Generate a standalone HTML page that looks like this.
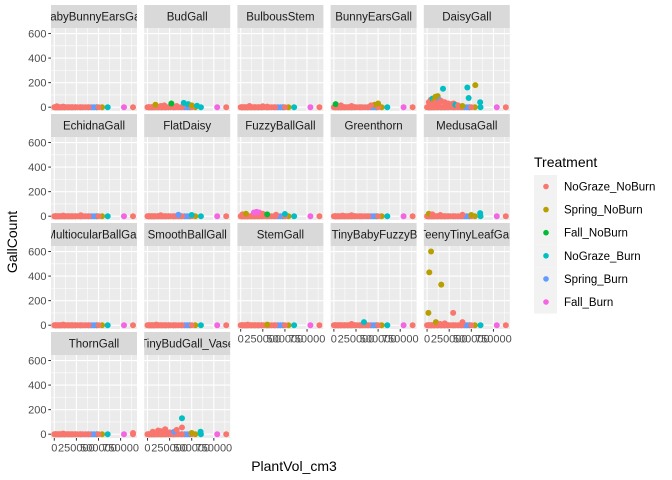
<!DOCTYPE html>
<html><head><meta charset="utf-8"><style>
body{margin:0;background:#fff;}
svg{display:block;font-family:"Liberation Sans",Arial,sans-serif;}
</style></head><body>
<svg id="chart" width="672" height="480" viewBox="0 0 672 480"></svg>
<script>
const facetNames = ["BabyBunnyEarsGall","BudGall","BulbousStem","BunnyEarsGall","DaisyGall","EchidnaGall","FlatDaisy","FuzzyBallGall","Greenthorn","MedusaGall","MultiocularBallGall","SmoothBallGall","StemGall","TinyBabyFuzzyBall","TeenyTinyLeafGall","ThornGall","TinyBudGall_Vase"];
const treatments = ["NoGraze_NoBurn","Spring_NoBurn","Fall_NoBurn","NoGraze_Burn","Spring_Burn","Fall_Burn"];
const treatmentColors = ["#F8766D","#B79F00","#00BA38","#00BFC4","#619CFF","#F564E3"];
const yTicks = [0,200,400,600];
const yMinor = [100,300,500];
const xTicks = [0,250000,500000,750000];
const xTickLabels = ["0","250000","500000","750000"];
const xMinor = [125000,375000,625000,875000];
// plants with zero galls: [plantVol, treatmentIndex]
const zeroPlants = [[15000,1],[80000,1],[160000,1],[240000,2],[120000,2],[50000,3],[200000,3],[300000,4],[380000,4],[420000,4],[480000,3],[540000,1],[604000,3],[450000,4],[0,0],[10000,0],[20000,0],[30000,0],[45000,0],[60000,0],[75000,0],[90000,0],[110000,0],[130000,0],[150000,0],[170000,0],[190000,0],[210000,0],[235000,0],[260000,0],[290000,0],[320000,0],[350000,0],[390000,0],[500000,0],[788000,5],[890000,0]];
// per-facet nonzero counts: [plantVol, gallCount, treatmentIndex]
const countsBabyBunnyEars = [[30000,8,0],[100000,5,0]];
const countsBud = [[90000,20,1],[190000,15,0],[270000,30,2],[410000,35,3],[460000,25,3],[500000,15,1],[560000,12,3],[150000,10,0],[330000,10,0]];
const countsBulbous = [[100000,10,0],[250000,8,0],[300000,5,0]];
const countsBunnyEars = [[20000,25,2],[80000,15,0],[200000,10,0],[460000,20,1],[500000,30,1],[420000,15,0]];
const countsDaisy = [[20000,40,0],[40000,60,0],[60000,70,3],[80000,55,1],[100000,45,0],[120000,90,1],[140000,60,4],[160000,50,0],[180000,150,3],[200000,40,0],[220000,20,0],[240000,30,0],[280000,25,0],[300000,30,0],[320000,20,3],[350000,15,0],[400000,10,1],[455000,160,3],[470000,75,3],[545000,180,1],[600000,40,3],[95000,85,1],[130000,30,0],[60000,20,0]];
const countsEchidna = [[100000,5,0],[300000,8,0]];
const countsFlatDaisy = [[150000,8,0],[500000,10,3],[350000,12,4]];
const countsFuzzyBall = [[20000,15,0],[60000,20,1],[150000,30,5],[180000,35,5],[210000,30,5],[250000,20,0],[300000,15,2],[400000,12,0],[500000,18,3]];
const countsGreenthorn = [[100000,5,0],[200000,8,0]];
const countsMedusa = [[20000,20,1],[60000,15,0],[150000,10,0],[400000,12,0],[600000,25,3],[500000,10,1]];
const countsMultiocular = [[100000,5,0]];
const countsSmoothBall = [[100000,5,0]];
const countsStem = [[80000,5,0],[300000,5,1]];
const countsTinyBabyFuzzy = [[340000,25,3],[200000,10,0]];
const countsTeenyTiny = [[45000,600,1],[25000,430,1],[160000,330,1],[15000,100,1],[295000,100,0],[400000,25,0],[100000,25,1],[200000,15,0],[150000,10,0]];
const countsThorn = [[890000,10,0],[100000,5,0]];
const countsTinyBud = [[390000,130,3],[390000,55,0],[120000,30,0],[200000,40,0],[60000,20,0],[150000,25,0],[250000,15,0],[300000,20,4],[600000,20,3],[500000,10,1],[330000,35,0]];
const facetCounts = [countsBabyBunnyEars,countsBud,countsBulbous,countsBunnyEars,countsDaisy,countsEchidna,countsFlatDaisy,countsFuzzyBall,countsGreenthorn,countsMedusa,countsMultiocular,countsSmoothBall,countsStem,countsTinyBabyFuzzy,countsTeenyTiny,countsThorn,countsTinyBud];

const NS="http://www.w3.org/2000/svg";
const svg=document.getElementById('chart');
function mk(tag,attrs,parent){const e=document.createElementNS(NS,tag);for(const k in attrs)e.setAttribute(k,attrs[k]);(parent||svg).appendChild(e);return e;}
const PW=86, PH=83, STRIP=23;
const xDom=[-37000,935000], yDom=[-31,645];
function colLeft(c){return 51+93.2*c;}
function stripTop(r){return 5+109*r;}
function sx(c,v){return colLeft(c)+(v-xDom[0])/(xDom[1]-xDom[0])*PW;}
function sy(r,v){const b=stripTop(r)+STRIP+PH;return b-(v-yDom[0])/(yDom[1]-yDom[0])*PH;}
const defs=mk('defs',{});

facetNames.forEach((name,i)=>{
  const r=Math.floor(i/5), c=i%5;
  const L=colLeft(c), T=stripTop(r)+STRIP;
  const g=mk('g',{});
  
  
  const cp=mk('clipPath',{id:'cs'+i},defs);
  mk('rect',{x:L,y:stripTop(r),width:PW,height:STRIP},cp);
  const st=mk('rect',{x:L,y:stripTop(r),width:PW,height:STRIP,fill:'#D9D9D9'},g);
  
  
  const tt=mk('text',{x:L+PW/2,y:stripTop(r)+15.5,'text-anchor':'middle','font-size':'11.5','fill':'#1A1A1A','clip-path':'url(#cs'+i+')'},g);
  if(name==='TinyBabyFuzzyBall'){tt.setAttribute('x',L+1);tt.setAttribute('text-anchor','start');}
  tt.textContent=name;
  
  
  const bg=mk('rect',{x:L,y:T,width:PW,height:PH,fill:'#EBEBEB'},g);
  
  
  yMinor.forEach(v=>mk('line',{x1:L,x2:L+PW,y1:sy(r,v),y2:sy(r,v),stroke:'#fff','stroke-width':0.55},g));
  xMinor.forEach(v=>{if(sx(c,v)<L+PW)mk('line',{x1:sx(c,v),x2:sx(c,v),y1:T,y2:T+PH,stroke:'#fff','stroke-width':0.55},g);});
  yTicks.forEach(v=>mk('line',{x1:L,x2:L+PW,y1:sy(r,v),y2:sy(r,v),stroke:'#fff','stroke-width':1.1},g));
  xTicks.forEach(v=>mk('line',{x1:sx(c,v),x2:sx(c,v),y1:T,y2:T+PH,stroke:'#fff','stroke-width':1.1},g));
  const cpp=mk('clipPath',{id:'cp'+i},defs);
  mk('rect',{x:L,y:T,width:PW,height:PH},cpp);
  const pts=mk('g',{'clip-path':'url(#cp'+i+')'},g);
  zeroPlants.forEach(p=>{
    const d=mk('circle',{cx:sx(c,p[0]),cy:sy(r,0),r:3,fill:treatmentColors[p[1]]},pts);
    
    
  });
  facetCounts[i].forEach(p=>{
    const d=mk('circle',{cx:sx(c,p[0]),cy:sy(r,p[1]),r:3,fill:treatmentColors[p[2]]},pts);
    
    
  });
  if(c===0){
    yTicks.forEach(v=>{
      mk('line',{x1:L-2.7,x2:L,y1:sy(r,v),y2:sy(r,v),stroke:'#333','stroke-width':1},g);
      const t=mk('text',{x:L-4.5,y:sy(r,v)+4,'text-anchor':'end','font-size':'11','fill':'#4D4D4D'},g);
      t.textContent=v;
      
      
    });
  }
  const isBottom = (i+5>=facetNames.length);
  if(isBottom){
    xTicks.forEach((v,k)=>{
      mk('line',{x1:sx(c,v),x2:sx(c,v),y1:T+PH,y2:T+PH+2.7,stroke:'#333','stroke-width':1},g);
      const t=mk('text',{x:sx(c,v),y:T+PH+13.5,'text-anchor':'middle','font-size':'11','fill':'#4D4D4D'},g);
      t.textContent=xTickLabels[k];
      
      
    });
  }
});

const xt=mk('text',{x:294,y:471,'text-anchor':'middle','font-size':'14','fill':'#000'});
xt.textContent='PlantVol_cm3';


const yt=mk('text',{x:0,y:0,'text-anchor':'middle','font-size':'14','fill':'#000',transform:'translate(17,242) rotate(-90)'});
yt.textContent='GallCount';



const lg=mk('g',{});


const lt=mk('text',{x:534,y:167,'font-size':'14','fill':'#000'},lg);
lt.textContent='Treatment';


treatments.forEach((tr,k)=>{
  const cy=186.5+23.1*k;
  const e=mk('g',{},lg);
  
  
  mk('rect',{x:534,y:cy-11.5,width:23,height:23,fill:'#F2F2F2'},e);
  mk('circle',{cx:546,cy:cy,r:2.8,fill:treatmentColors[k]},e);
  const t=mk('text',{x:564,y:cy+4,'font-size':'11.5','fill':'#000'},e);
  t.textContent=tr;
});
</script>
</body></html>
